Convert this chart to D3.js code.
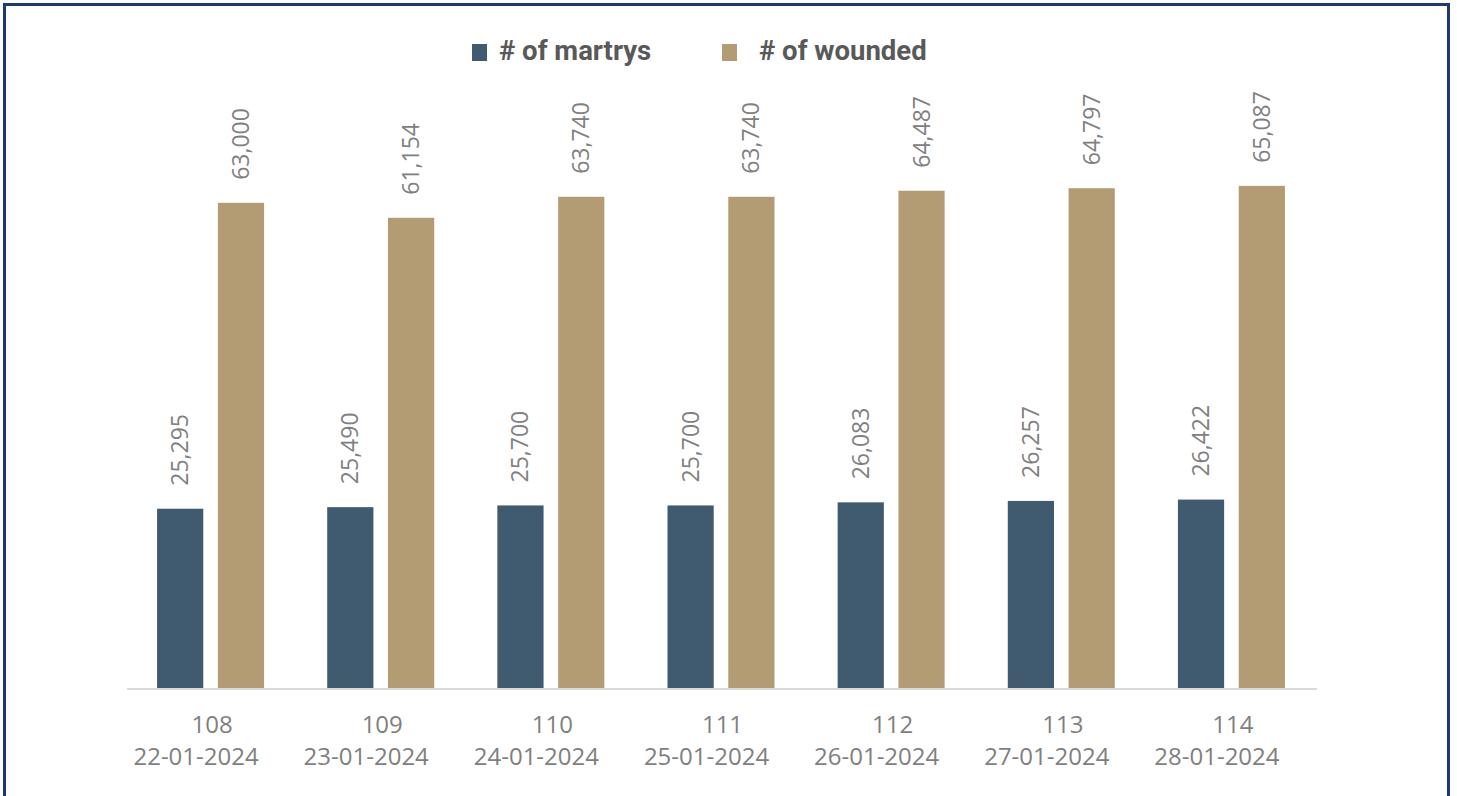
<!DOCTYPE html>
<html lang="en">
<head>
  <meta charset="UTF-8">
  <title>Martyrs and wounded</title>
  <script src="https://d3js.org/d3.v7.min.js"></script>
  <style>
    body { margin: 0; background: #fff; }
    svg { display: block; }
  </style>
</head>
<body>
  <div id="chart"></div>
  <script>
    // data
    const days = ['108', '109', '110', '111', '112', '113', '114'];
    const dates = ['22-01-2024', '23-01-2024', '24-01-2024', '25-01-2024', '26-01-2024', '27-01-2024', '28-01-2024'];
    const martyrs = [25295, 25490, 25700, 25700, 26083, 26257, 26422];
    const wounded = [63000, 61154, 63740, 63740, 64487, 64797, 65087];
    const seriesNames = ['# of martrys', '# of wounded'];
    const colors = ['#405a70', '#b39b74'];

    const width = 1457, height = 796;

    const svg = d3.select('#chart').append('svg')
      .attr('width', width)
      .attr('height', height);

    // frame
    svg.append('rect')
      .attr('x', 4.5).attr('y', 4.5)
      .attr('width', 1444).attr('height', 820)
      .attr('fill', 'none')
      .attr('stroke', '#1c3a73')
      .attr('stroke-width', 3);

    const baseline = 688;

    const x = d3.scaleBand()
      .domain(days)
      .range([125, 1316])
      .paddingInner(0);

    const inner = d3.scaleBand()
      .domain([0, 1])
      .range([0, 107])
      .paddingInner(0.24);

    const y = d3.scaleLinear()
      .domain([3200, 70000])
      .range([baseline, 146]);

    const rows = days.map((d, i) => ({ day: d, date: dates[i], vals: [martyrs[i], wounded[i]] }));

    const groups = svg.selectAll('.grp')
      .data(rows)
      .enter()
      .append('g')
      .attr('class', 'grp')
      .attr('transform', d => `translate(${x(d.day) + x.bandwidth() / 2 - 53},0)`);

    groups.selectAll('rect')
      .data(d => d.vals)
      .enter()
      .append('rect')
      .attr('x', (v, j) => inner(j))
      .attr('y', v => y(v))
      .attr('width', inner.bandwidth())
      .attr('height', v => baseline - y(v))
      .attr('fill', (v, j) => colors[j]);

    groups.selectAll('.val')
      .data(d => d.vals)
      .enter()
      .append('text')
      .attr('class', 'val')
      .attr('transform', (v, j) => `translate(${inner(j) + inner.bandwidth() / 2 + 8},${y(v) - 23}) rotate(-90)`)
      .attr('text-anchor', 'start')
      .attr('font-family', '"Open Sans", sans-serif')
      .attr('font-size', 23)
      .attr('fill', '#808080')
      .text(v => d3.format(',')(v));

    // axis line
    svg.append('line')
      .attr('x1', 127).attr('x2', 1317)
      .attr('y1', baseline + 1).attr('y2', baseline + 1)
      .attr('stroke', '#d9d9d9')
      .attr('stroke-width', 2);

    // category labels
    const lab = svg.selectAll('.lab')
      .data(rows)
      .enter()
      .append('text')
      .attr('class', 'lab')
      .attr('font-family', '"Open Sans", sans-serif')
      .attr('font-size', 24)
      .attr('fill', '#7f7f7f')
      .attr('text-anchor', 'middle');

    lab.append('tspan')
      .attr('x', d => x(d.day) + x.bandwidth() / 2 + 2)
      .attr('y', 733)
      .text(d => d.day);

    lab.append('tspan')
      .attr('x', d => x(d.day) + x.bandwidth() / 2 - 14)
      .attr('y', 765)
      .text(d => d.date);

    // legend
    const legendX = [472, 722];
    const legend = svg.selectAll('.leg')
      .data(seriesNames)
      .enter()
      .append('g')
      .attr('class', 'leg')
      .attr('transform', (d, i) => `translate(${legendX[i]},44)`);

    legend.append('rect')
      .attr('width', 15).attr('height', 17)
      .attr('fill', (d, i) => colors[i]);

    legend.append('text')
      .attr('x', (d, i) => i === 0 ? 27 : 37)
      .attr('y', 16)
      .attr('font-family', 'Roboto, sans-serif')
      .attr('font-weight', 700)
      .attr('font-size', 27.5)
      .attr('fill', '#595959')
      .text(d => d);
  </script>
</body>
</html>
